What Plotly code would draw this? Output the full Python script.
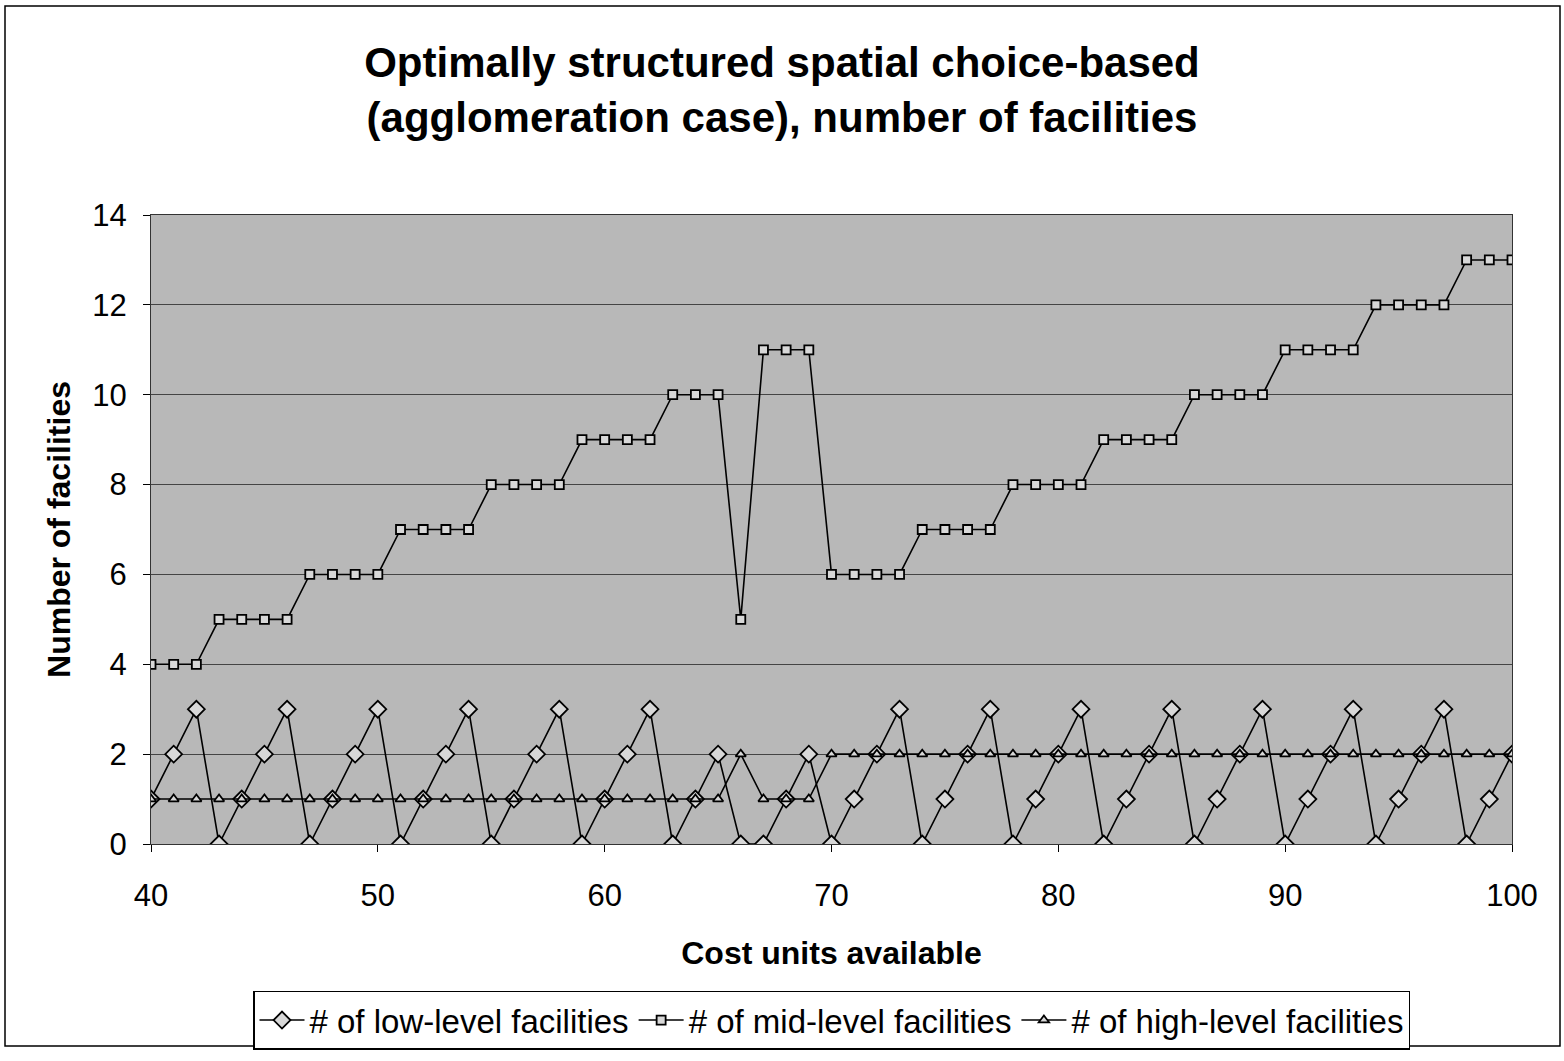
import plotly.graph_objects as go

x_cost = list(range(40, 101))
low_level = [1, 2, 3, 0, 1, 2, 3, 0, 1, 2, 3, 0, 1, 2, 3, 0, 1, 2, 3, 0,
             1, 2, 3, 0, 1, 2, 0, 0, 1, 2, 0, 1, 2, 3, 0, 1, 2, 3, 0, 1,
             2, 3, 0, 1, 2, 3, 0, 1, 2, 3, 0, 1, 2, 3, 0, 1, 2, 3, 0, 1, 2]
mid_level = [4, 4, 4, 5, 5, 5, 5, 6, 6, 6, 6, 7, 7, 7, 7, 8, 8, 8, 8, 9,
             9, 9, 9, 10, 10, 10, 5, 11, 11, 11, 6, 6, 6, 6, 7, 7, 7, 7, 8, 8,
             8, 8, 9, 9, 9, 9, 10, 10, 10, 10, 11, 11, 11, 11, 12, 12, 12, 12, 13, 13, 13]
high_level = [1] * 26 + [2, 1, 1, 1] + [2] * 31

series_names = ["# of low-level facilities", "# of mid-level facilities", "# of high-level facilities"]
title_text = "Optimally structured spatial choice-based<br>(agglomeration case), number of facilities"
x_title = "Cost units available"
y_title = "Number of facilities"

fig = go.Figure()
symbols = ["diamond", "square", "triangle-up"]
sizes = [13, 9, 9]
for vals, name, sym, sz in zip([low_level, mid_level, high_level], series_names, symbols, sizes):
    fig.add_trace(go.Scatter(
        x=x_cost, y=vals, name=name, mode="lines+markers",
        line=dict(color="black", width=1.6),
        marker=dict(symbol=sym, size=sz, color="#d8d8d8", line=dict(width=1.8, color="black")),
    ))

fig.update_layout(
    width=1564, height=1061,
    paper_bgcolor="white", plot_bgcolor="#b8b8b8",
    margin=dict(l=151, r=52, t=215, b=208),
    font=dict(family="Liberation Sans, Arial, sans-serif", color="black", size=31),
    title=dict(text="<b>" + title_text + "</b>", x=0.5, xanchor="center", y=0.927, yanchor="middle",
               font=dict(size=42)),
    xaxis=dict(range=[40, 100], dtick=10, showgrid=False, zeroline=False,
               showline=True, linecolor="#333", mirror=True, ticks="outside", ticklen=7,
               tickcolor="black", tickfont=dict(size=31), ticklabelstandoff=17,
               title=dict(text="<b>" + x_title + "</b>", font=dict(size=32), standoff=29)),
    yaxis=dict(range=[0, 14], dtick=2, showgrid=True, gridcolor="#444", gridwidth=1, zeroline=False,
               showline=True, linecolor="#333", mirror=True, ticks="outside", ticklen=7,
               tickcolor="black", tickfont=dict(size=31), ticklabelstandoff=10,
               title=dict(text="<b>" + y_title + "</b>", font=dict(size=32), standoff=12)),
    legend=dict(orientation="h", x=0.5, xanchor="center", y=-0.28, yanchor="middle",
                bordercolor="black", borderwidth=1.5, bgcolor="white",
                font=dict(size=33), itemwidth=45, tracegroupgap=0),
    showlegend=True,
)
fig.add_shape(type="rect", xref="paper", yref="paper", x0=-146/1361, x1=1+48/1361,
              y0=-205/638, y1=1+212/638, line=dict(color="black", width=1.5))

fig.write_html("out.html")
